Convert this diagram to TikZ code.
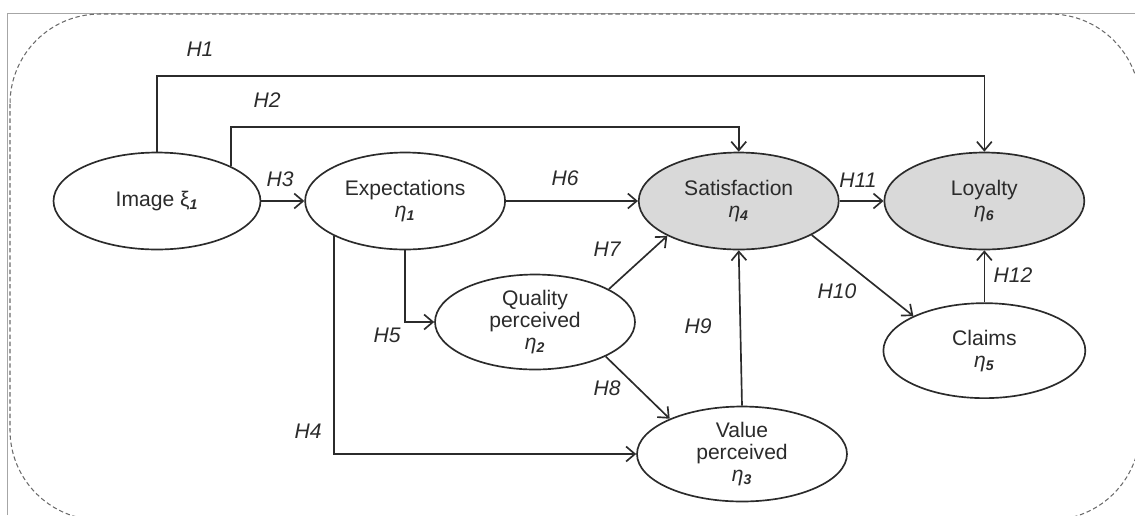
\documentclass[tikz,border=0pt]{standalone}
\usepackage{fontspec}
\setmainfont{Liberation Sans}
\usepackage{tikz}
\usetikzlibrary{shapes.geometric,arrows.meta,positioning}
\definecolor{LineGray}{HTML}{2B2B2B}
\definecolor{FillGray}{HTML}{D9D9D9}
\definecolor{FrameGray}{HTML}{A6A6A6}
\definecolor{DashGray}{HTML}{6B6B6B}
\tikzset{
  LV/.style={ellipse,draw=LineGray,line width=0.95pt,fill=white,inner sep=0pt,
             minimum width=4cm,minimum height=1.94cm,
             align=center,text=LineGray,
             font=\fontsize{12}{12.5}\selectfont},
  LVd/.style={LV,fill=FillGray},
  arr/.style={-{Straight Barb[length=5pt,width=8.5pt]},line width=0.95pt,draw=LineGray},
  hyp/.style={inner sep=0pt,text=LineGray,font=\fontsize{12}{12.5}\selectfont\itshape}
}
\newcommand{\lvsub}[1]{\textsubscript{\bfseries\itshape #1}}
\newcommand{\lveta}[1]{\textit{η}\lvsub{#1}}

\begin{document}
\begin{tikzpicture}[x=0.02cm,y=-0.02cm]
  \useasboundingbox (0,0) rectangle (1135,515);
  \clip (0,0) rectangle (1135,515);
  % frame
  \draw[FrameGray,line width=0.4pt] (7,515) -- (7,13) -- (1135,13);
  \draw[DashGray,line width=0.6pt,dash pattern=on 2.5pt off 1.6pt,rounded corners=1.8cm]
    (10,14) rectangle (1140,520);

  % latent variables
  \node[LV,minimum width=4.14cm] (img) at (157,201) {Image ξ\lvsub{1}};
  \node[LV,right=0.86cm of img] (exp) {Expectations\\\lveta{1}};
  \node[LVd,right=2.64cm of exp] (sat) {Satisfaction\\\lveta{4}};
  \node[LVd,right=0.88cm of sat] (loy) {Loyalty\\\lveta{6}};
  \node[LV,minimum height=1.9cm] (qua) at (535,322) {Quality\\perceived\\\lveta{2}};
  \node[LV,minimum width=4.2cm,minimum height=1.9cm] (val) at (742,454) {Value\\perceived\\\lveta{3}};
  \node[LV,minimum width=4.04cm,minimum height=1.9cm,below=1.04cm of loy] (cla) {Claims\\\lveta{5}};

  % paths
  \coordinate (h1y) at (0,76);
  \coordinate (h2y) at (0,127);
  \draw[arr] (img.north) -- (img.north |- h1y) -| (loy.north);
  \draw[arr] (img.25) -- (img.25 |- h2y) -| (sat.north);
  \draw[arr] (img.east) -- (exp.west);
  \draw[arr] (exp.206) |- (val.west);
  \draw[arr] (exp.south) |- (qua.west);
  \draw[arr] (exp.east) -- (sat.west);
  \draw[arr] (qua.24) -- (sat.206);
  \draw[arr] (qua.334) -- (val.154);
  \draw[arr] (val.north) -- (sat.south);
  \draw[arr] (sat.335) -- (cla.154);
  \draw[arr] (sat.east) -- (loy.west);
  \draw[arr] (cla.north) -- (loy.south);

  % hypotheses
  \node[hyp] (h1) at (200,49) {H1};
  \node[hyp] (h2) at (267,100) {H2};
  \node[hyp] (h3) at (280,179) {H3};
  \node[hyp] (h4) at (308,431) {H4};
  \node[hyp] (h5) at (387,335) {H5};
  \node[hyp] (h6) at (565,178) {H6};
  \node[hyp] (h7) at (607,249) {H7};
  \node[hyp] (h8) at (607,388) {H8};
  \node[hyp] (h9) at (698,326) {H9};
  \node[hyp] (h10) at (837,291) {H10};
  \node[hyp] (h11) at (858,180) {H11};
  \node[hyp] (h12) at (1013,275) {H12};
\end{tikzpicture}
\end{document}
